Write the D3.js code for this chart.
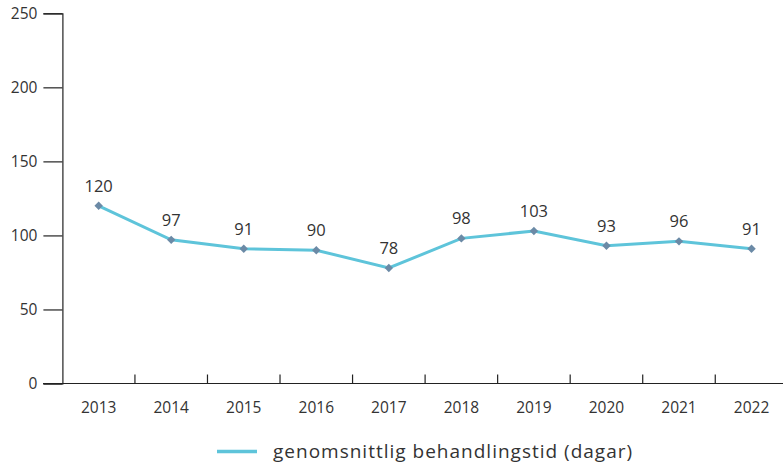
<!DOCTYPE html>
<html><head><meta charset="utf-8">
<script src="https://cdn.jsdelivr.net/npm/d3@7"></script>
<style>body{margin:0;background:#fff;}svg{display:block;font-family:"Open Sans",sans-serif;}</style>
</head><body><svg id="c" width="783" height="465"></svg>
<script>
const years = ["2013","2014","2015","2016","2017","2018","2019","2020","2021","2022"];
const values = [120,97,91,90,78,98,103,93,96,91];
const yTicks = [0,50,100,150,200,250];
const seriesName = "genomsnittlig behandlingstid (dagar)";

const svg = d3.select("#c");
const x = d3.scaleBand().domain(years).range([62.4, 787.8]);
const y = d3.scaleLinear().domain([0,250]).range([383.5, 13.3]);
const txt = "#333";
const ff = "'Open Sans', sans-serif";

// y axis
const ya = svg.append("g").attr("transform","translate(62.4,0)")
  .call(d3.axisLeft(y).tickValues(yTicks).tickSize(19).tickPadding(6));
ya.select(".domain").attr("stroke","#222").attr("stroke-width",1.2);
ya.selectAll(".tick line").attr("stroke","#222").attr("stroke-width",1.2);
ya.selectAll("text").attr("fill",txt).style("font-size","15.5px").style("font-family",ff);

// x axis
const xa = svg.append("g").attr("transform","translate(0,383.5)")
  .call(d3.axisBottom(x).tickSize(0).tickPadding(18));
xa.select(".domain").remove();
xa.selectAll("text").attr("fill",txt).style("font-size","15.5px").style("font-family",ff);
svg.append("line").attr("x1",43).attr("x2",783).attr("y1",383.5).attr("y2",383.5).attr("stroke","#222").attr("stroke-width",1.2);
const bounds = years.map(d=>x(d)).concat([x(years[years.length-1])+x.bandwidth()]);
svg.append("g").selectAll("line").data(bounds.slice(1,-1)).join("line")
  .attr("x1",d=>d).attr("x2",d=>d).attr("y1",374.5).attr("y2",383.5).attr("stroke","#222").attr("stroke-width",1.2);

// line
const cx = d=>x(d)+x.bandwidth()/2;
svg.append("path").datum(values.map((v,i)=>[years[i],v]))
  .attr("fill","none").attr("stroke","#5ec4da").attr("stroke-width",3)
  .attr("d", d3.line().x(d=>cx(d[0])).y(d=>y(d[1])));
svg.append("g").selectAll("path").data(values).join("path")
  .attr("d", d3.symbol(d3.symbolDiamond2, 45))
  .attr("transform",(d,i)=>`translate(${cx(years[i])},${y(d)})`)
  .attr("fill","#6b8aa6");
svg.append("g").selectAll("text").data(values).join("text")
  .attr("x",(d,i)=>cx(years[i])).attr("y",d=>y(d)-14)
  .attr("text-anchor","middle").attr("fill",txt).style("font-size","16.5px").style("font-family",ff)
  .text(d=>d);

// legend
svg.append("line").attr("x1",217).attr("x2",257).attr("y1",451.5).attr("y2",451.5)
  .attr("stroke","#5ec4da").attr("stroke-width",3.5);
svg.append("text").attr("x",273).attr("y",457.5).attr("fill",txt).style("font-size","19px")
  .style("letter-spacing","1px").style("font-family",ff).text(seriesName);
</script></body></html>
